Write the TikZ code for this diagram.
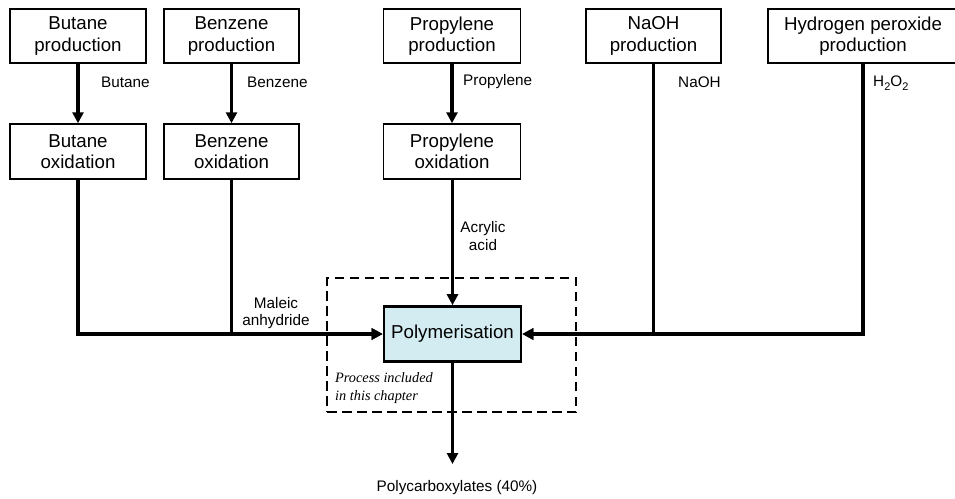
\documentclass[tikz,border=0pt]{standalone}
\usepackage{fontspec}
\setmainfont{Liberation Sans}
\newfontfamily\noteserif{Liberation Serif}
\usetikzlibrary{arrows.meta}
\definecolor{polyfill}{HTML}{D3ECF2}
% low-set subscript for chemical formulae
\newcommand{\chemsub}[1]{\raisebox{-0.45ex}{\fontsize{11}{11}\selectfont #1}}
\begin{document}
\begin{tikzpicture}[x=1pt,y=-1pt,
  proc/.style={draw, line width=1.5pt, inner sep=0pt, align=center,
    font=\fontsize{18.7}{21.5}\selectfont},
  topbox/.style={proc, minimum height=54pt},
  oxbox/.style={proc, minimum height=55pt},
  pipe/.style={line width=3.2pt},
  flow/.style={pipe, -{Triangle[length=11pt,width=11pt]}},
  lbl/.style={inner sep=0pt, align=center, font=\fontsize{15.3}{17.5}\selectfont},
  boundary/.style={draw, line width=2.6pt, dash pattern=on 9.5pt off 5.5pt, inner sep=0pt},
]
\useasboundingbox (0,0) rectangle (955,498);

% upstream production steps
\node[topbox, minimum width=136pt] (bp)  at (78,36)    {Butane\\production};
\node[topbox, minimum width=135pt] (bzp) at (231.5,36) {Benzene\\production};
\node[topbox, minimum width=137pt] (pp)  at (452,36)   {Propylene\\production};
\node[topbox, minimum width=135pt] (nap) at (653.5,36) {NaOH\\production};
\node[topbox, minimum width=190pt] (hp)  at (863,36)   {Hydrogen peroxide\\production};

% oxidation steps
\node[oxbox, minimum width=136pt] (bo)  at (78,151.5)    {Butane\\oxidation};
\node[oxbox, minimum width=135pt] (bzo) at (231.5,151.5) {Benzene\\oxidation};
\node[oxbox, minimum width=137pt] (po)  at (452,151.5)   {Propylene\\oxidation};

% boundary of the process covered here
\node[boundary, minimum width=249pt, minimum height=134pt] (incl) at (451.5,345) {};

% polymerisation step
\node[proc, line width=2.6pt, fill=polyfill, minimum width=137pt, minimum height=55pt]
  (poly) at (452.5,334) {Polymerisation};

\coordinate (out) at (452.5,464);

% flows
\draw[flow] (bp) -- (bo);
\draw[flow] (bzp) -- (bzo);
\draw[flow] (pp) -- (po);
\draw[flow] (po.south -| poly.north) -- (poly.north);
\draw[flow] (bo.south) |- (poly.west);
\draw[flow] (bzo.south) |- (poly.west);
\draw[flow] (hp.south) |- (poly.east);
\draw[flow] (nap.south) |- (poly.east);
\draw[flow] (poly.south) -- (out);

% stream labels
\node[lbl, anchor=west] (lbut)  at (101,82)  {Butane};
\node[lbl, anchor=west] (lben)  at (247,82)  {Benzene};
\node[lbl, anchor=west] (lprop) at (463,82)  {Propylene};
\node[lbl, anchor=west] (lnaoh) at (678,82)  {NaOH};
\node[lbl, anchor=west] (lh2o2) at (873,83)  {H\chemsub{2}O\chemsub{2}};
\node[lbl] (lacr) at (483,236) {Acrylic\\acid};
\node[lbl] (lmal) at (276,313) {Maleic\\anhydride};
\node[lbl] (lpc)  at (457,488) {Polycarboxylates (40\%)};

\node[inner sep=0pt, anchor=west, align=left,
  font=\noteserif\itshape\fontsize{14.3}{17.5}\selectfont]
  (note) at (335,388) {Process included\\in this chapter};
\end{tikzpicture}
\end{document}
